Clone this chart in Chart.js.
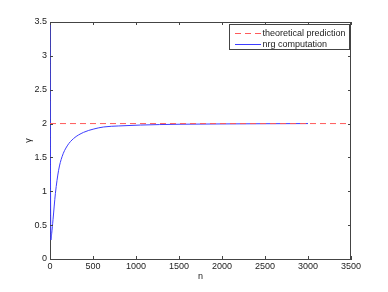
<!DOCTYPE html>
<html>
<head>
<meta charset="utf-8">
<script src="https://cdn.jsdelivr.net/npm/chart.js@4.4.1/dist/chart.umd.min.js"></script>
<style>
  html, body { margin: 0; padding: 0; background: #fff; }
  #wrap { width: 388px; height: 292px; }
</style>
</head>
<body>
<div id="wrap"><canvas id="chart"></canvas></div>
<script>
/* ── data ─────────────────────────────────────────────── */
const nValues     = [0, 10, 20, 35, 63, 100, 140, 200, 275, 390, 510, 625, 800, 1050, 1500, 2000, 2500, 3000];
const gammaValues = [3.6, 0.28, 0.38, 0.58, 0.97, 1.31, 1.51, 1.67, 1.78, 1.87, 1.92, 1.95, 1.965, 1.978, 1.99, 1.995, 1.998, 2.0];
const theoryN     = [0, 3500];
const theoryGamma = [2, 2];
const xTicks      = [0, 500, 1000, 1500, 2000, 2500, 3000, 3500];
const yTicks      = [0, 0.5, 1, 1.5, 2, 2.5, 3, 3.5];
const labels      = ['theoretical prediction', 'nrg computation'];

const font   = { family: '"Liberation Sans", Arial, sans-serif', size: 9 };
const axisC  = '#444';
const redC   = '#ff5a5a';
const blueC  = '#3c3cff';
const redDash = [6, 4];

// inward tick marks on all four sides + top/right frame
const boxTicks = {
  id: 'boxTicks',
  afterDraw(chart) {
    const { ctx, chartArea: a, scales: { x, y } } = chart;
    ctx.save();
    ctx.strokeStyle = axisC;
    ctx.lineWidth = 1;
    ctx.beginPath();
    ctx.moveTo(a.left, a.top + 0.5); ctx.lineTo(a.right, a.top + 0.5);
    ctx.moveTo(a.right - 0.5, a.top); ctx.lineTo(a.right - 0.5, a.bottom);
    xTicks.forEach(v => {
      const px = Math.round(x.getPixelForValue(v)) + 0.5;
      ctx.moveTo(px, a.bottom); ctx.lineTo(px, a.bottom - 3);
      ctx.moveTo(px, a.top);    ctx.lineTo(px, a.top + 3);
    });
    yTicks.forEach(v => {
      const py = Math.round(y.getPixelForValue(v)) + 0.5;
      ctx.moveTo(a.left, py);  ctx.lineTo(a.left + 3, py);
      ctx.moveTo(a.right, py); ctx.lineTo(a.right - 3, py);
    });
    ctx.stroke();
    ctx.restore();
  }
};

// boxed legend in the top-right corner, like matlab's
const boxLegend = {
  id: 'boxLegend',
  afterDraw(chart) {
    const { ctx } = chart;
    const x0 = 229.5, y0 = 24.5, w = 120, h = 25;
    ctx.save();
    ctx.fillStyle = '#fff';
    ctx.fillRect(x0, y0, w, h);
    ctx.strokeStyle = axisC;
    ctx.lineWidth = 1;
    ctx.strokeRect(x0, y0, w, h);
    ctx.font = `${font.size}px ${font.family}`;
    ctx.textBaseline = 'middle';
    const rows = [
      { text: labels[0], color: redC,  dash: redDash },
      { text: labels[1], color: blueC, dash: [] }
    ];
    rows.forEach((r, i) => {
      const yy = 33.5 + i * 11;
      ctx.strokeStyle = r.color;
      ctx.setLineDash(r.dash);
      ctx.beginPath();
      ctx.moveTo(235, yy); ctx.lineTo(261, yy);
      ctx.stroke();
      ctx.setLineDash([]);
      ctx.fillStyle = '#222';
      ctx.fillText(r.text, 262.5, yy);
    });
    ctx.restore();
  }
};

new Chart(document.getElementById('chart'), {
  type: 'line',
  data: {
    datasets: [
      {
        label: labels[0],
        data: theoryN.map((n, i) => ({ x: n, y: theoryGamma[i] })),
        borderColor: redC,
        borderWidth: 1,
        borderDash: redDash,
        pointRadius: 0
      },
      {
        label: labels[1],
        data: nValues.map((n, i) => ({ x: n, y: gammaValues[i] })),
        borderColor: blueC,
        borderWidth: 1,
        pointRadius: 0,
        cubicInterpolationMode: 'monotone'
      }
    ]
  },
  options: {
    responsive: true,
    maintainAspectRatio: false,
    animation: false,
    layout: { padding: { top: 22, right: 37, left: 0, bottom: 0 } },
    plugins: { legend: { display: false }, tooltip: { enabled: false } },
    scales: {
      x: {
        type: 'linear', min: 0, max: 3500,
        afterFit: s => { s.height = 33; },
        afterBuildTicks: s => { s.ticks = xTicks.map(v => ({ value: v })); },
        ticks: { font, color: '#222', padding: 2, maxRotation: 0, callback: v => String(v) },
        grid: { display: false, drawTicks: false },
        border: { color: axisC, width: 1 },
        title: { display: true, text: 'n', font, color: '#222', padding: { top: 0, bottom: 10 } }
      },
      y: {
        type: 'linear', min: 0, max: 3.5,
        afterFit: s => { s.width = 50; },
        afterBuildTicks: s => { s.ticks = yTicks.map(v => ({ value: v })); },
        ticks: { font, color: '#222', padding: 3, callback: v => String(v) },
        grid: { display: false, drawTicks: false },
        border: { color: axisC, width: 1 },
        title: { display: true, text: 'γ', font, color: '#222', padding: { top: 23, bottom: 0 } }
      }
    }
  },
  plugins: [boxTicks, boxLegend]
});
</script>
</body>
</html>
